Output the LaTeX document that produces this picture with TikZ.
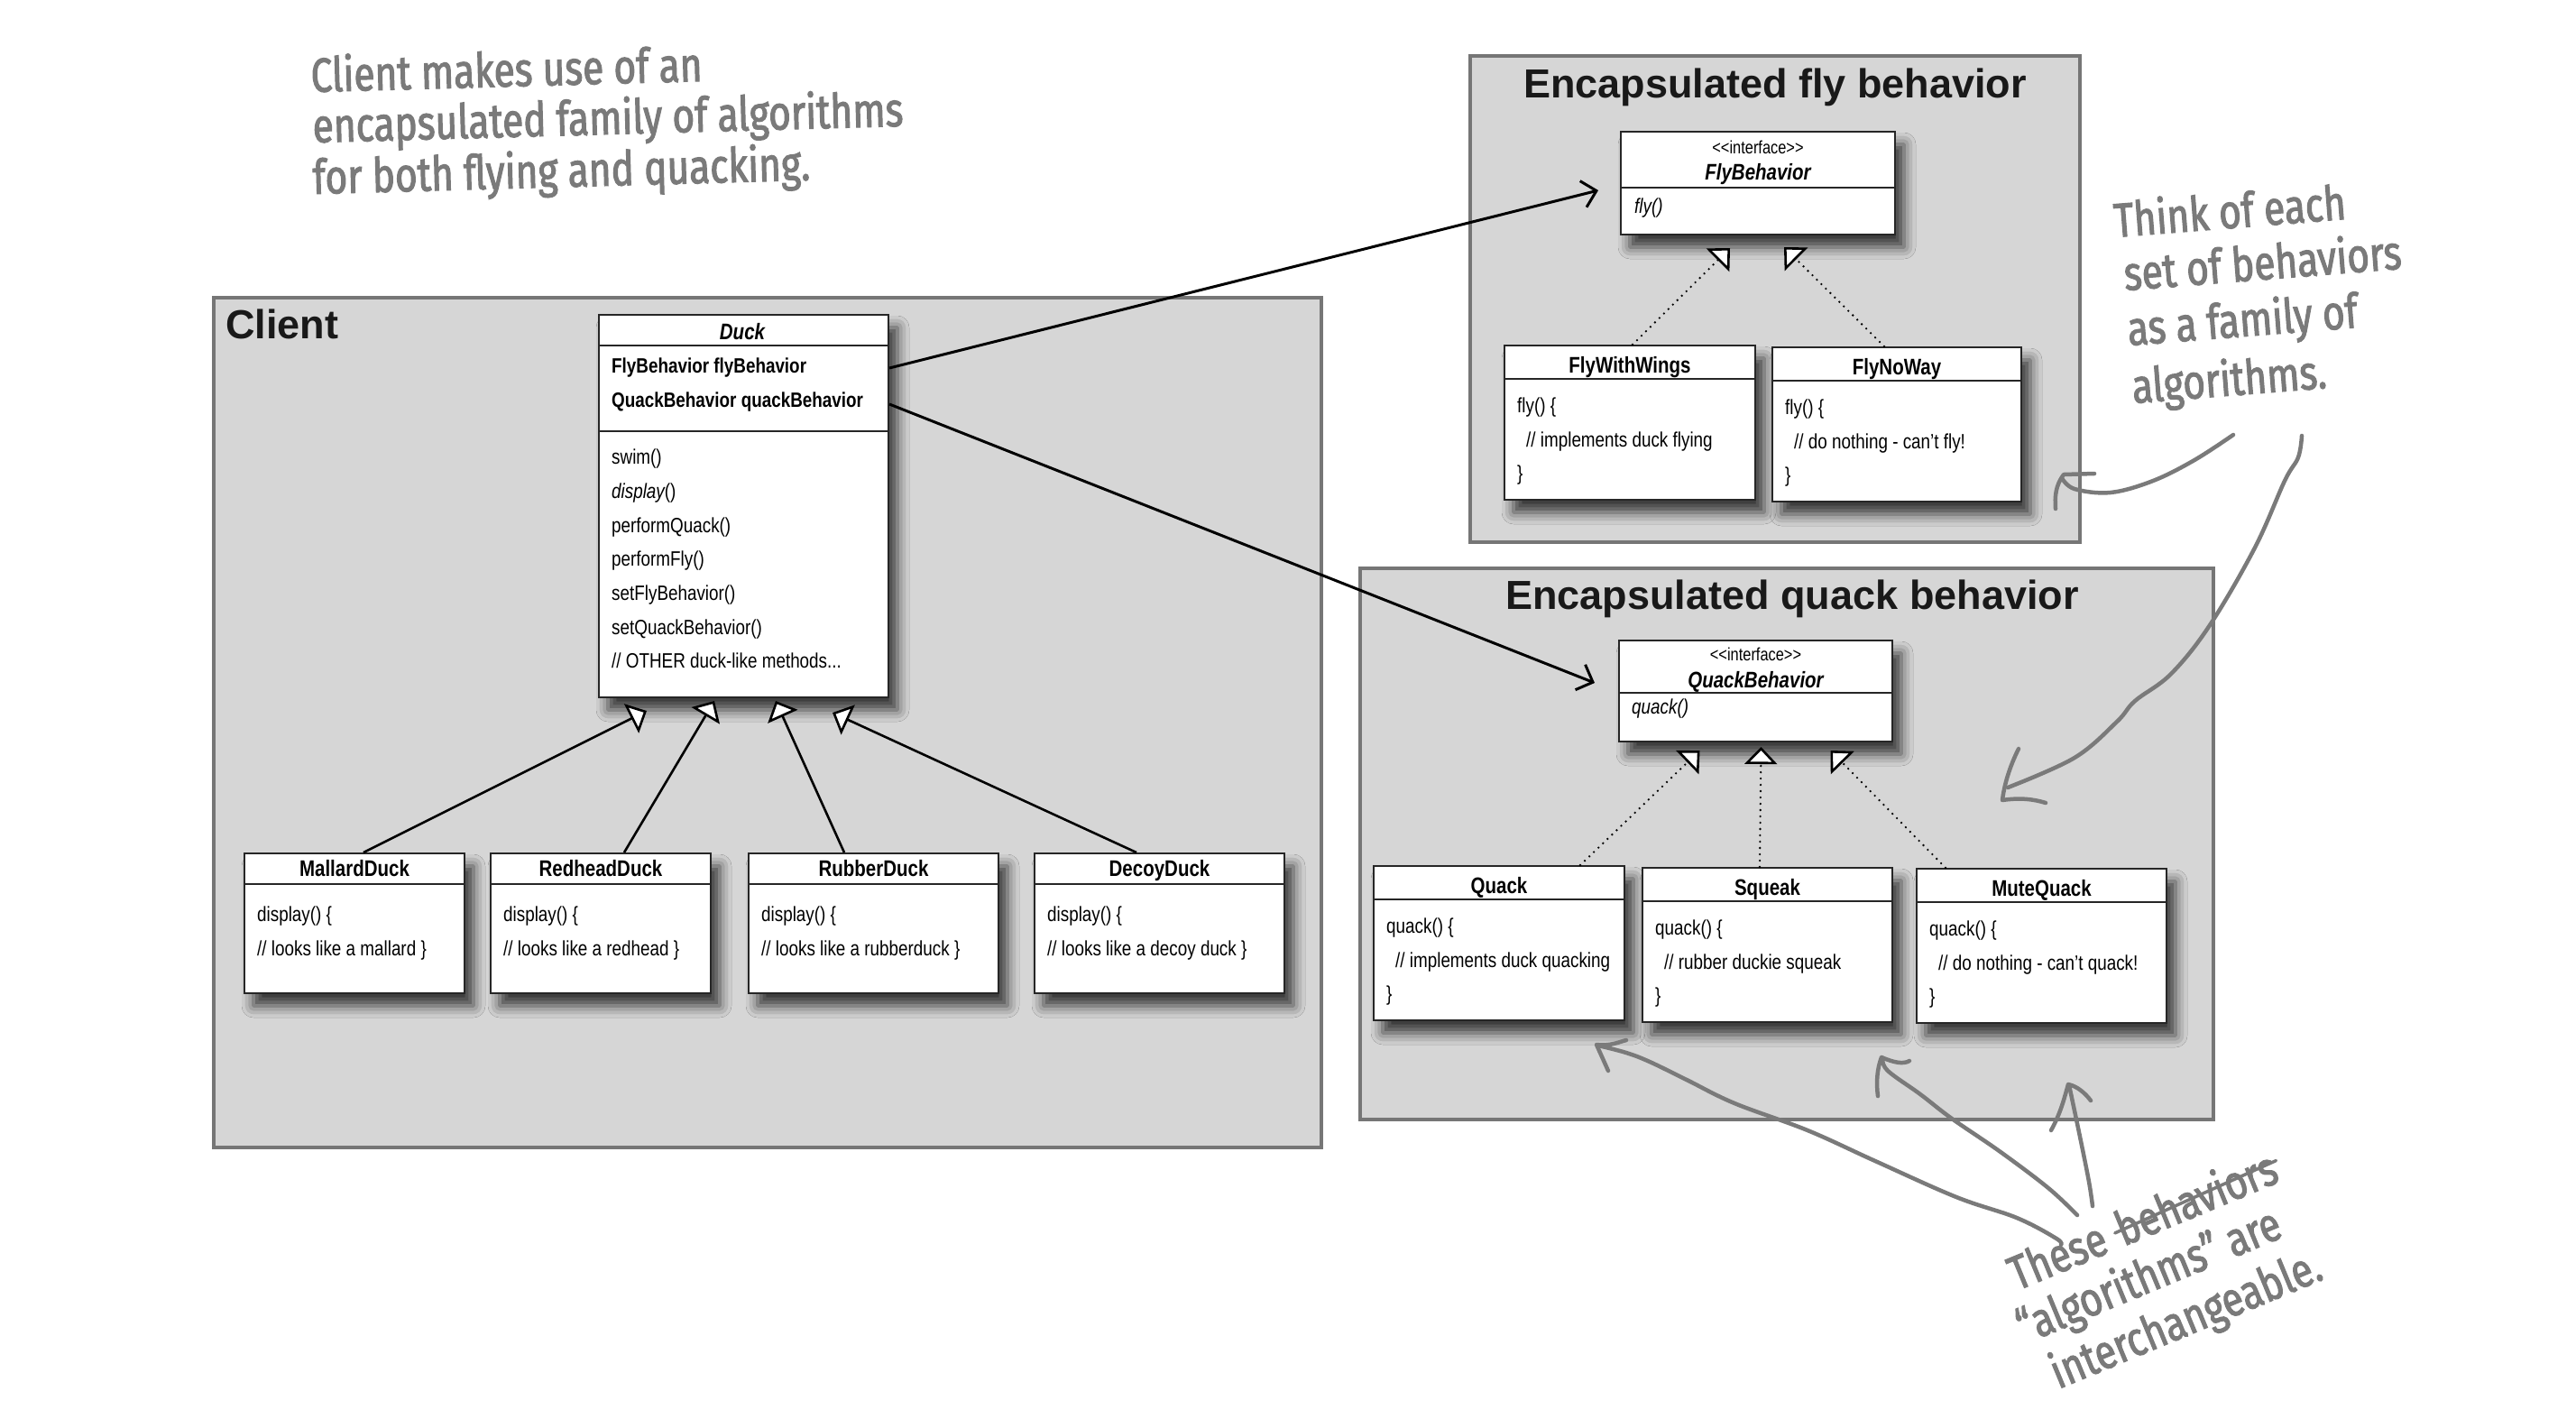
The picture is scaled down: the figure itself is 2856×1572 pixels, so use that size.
\documentclass[tikz,border=0pt]{standalone}
\usepackage{fontspec}
\setmainfont{Liberation Sans}
\newfontfamily\umlfont[FakeStretch=0.82]{Liberation Sans}
\newfontfamily\handfont[FakeStretch=0.8, FakeBold=2]{Fira Sans}
\usetikzlibrary{arrows.meta, calc, shadows.blur}

\definecolor{panelfill}{HTML}{D6D6D6}
\definecolor{panelline}{HTML}{767676}
\definecolor{pen}{HTML}{7A7A7A}

\tikzset{
  panel/.style={draw=panelline, line width=4pt, fill=panelfill, inner sep=0pt, anchor=north west},
  paneltitle/.style={font=\bfseries\fontsize{45}{54}\selectfont, text=black!90, inner sep=0pt},
  classbox/.style={draw=black!85, line width=2pt, fill=white, inner sep=0pt, anchor=north west,
    blur shadow={shadow xshift=10pt, shadow yshift=-14pt, shadow blur radius=13pt, shadow opacity=75}},
  divider/.style={draw=black!85, line width=1.6pt},
  cname/.style={font=\umlfont\bfseries\fontsize{25}{30}\selectfont, inner sep=0pt, anchor=base},
  iname/.style={font=\umlfont\bfseries\itshape\fontsize{25}{30}\selectfont, inner sep=0pt, anchor=base},
  stereo/.style={font=\umlfont\fontsize{20}{24}\selectfont, inner sep=0pt, anchor=base},
  utext/.style={font=\umlfont\fontsize{23}{28}\selectfont, inner sep=0pt, anchor=base west},
  attr/.style={font=\umlfont\bfseries\fontsize{23}{28}\selectfont, inner sep=0pt, anchor=base west},
  inherit/.style={draw=black, line width=2.6pt, -{Triangle[fill=white, length=19pt, width=36pt]}},
  realize/.style={inherit, dash pattern=on 0pt off 7pt, line cap=round},
  assoc/.style={draw=black, line width=3pt, -{Straight Barb[length=15pt, width=30pt]}},
  hand/.style={draw=pen, line width=4.5pt, line cap=round, line join=round},
  handtext/.style={font=\handfont\fontsize{53}{62}\selectfont, text=pen, inner sep=0pt, anchor=base west},
}

% a concrete duck: name, left x, width, class name, comment
\newcommand\duckclass[5]{%
  \node[classbox, minimum width=#3pt, minimum height=155pt] (#1) at (#2,945) {};
  \draw[divider] ($(#1.north west)+(0,35)$) -- ($(#1.north east)+(0,35)$);
  \node[cname] (#1-name) at ($(#1.north)+(0,26)$) {#4};
  \node[utext] (#1-l1) at ($(#1.north west)+(15,76)$) {display() \{};
  \node[utext] (#1-l2) at ($(#1.north west)+(15,114)$) {#5 \}};
}

% a behavior implementation: name, x, y, width, class name, opening line, comment
\newcommand\implclass[7]{%
  \node[classbox, minimum width=#4pt, minimum height=171pt] (#1) at (#2,#3) {};
  \draw[divider] ($(#1.north west)+(0,38)$) -- ($(#1.north east)+(0,38)$);
  \node[cname] (#1-name) at ($(#1.north)+(0,31)$) {#5};
  \node[utext] (#1-l1) at ($(#1.north west)+(15,75)$) {#6};
  \node[utext] (#1-l2) at ($(#1.north west)+(25,113)$) {#7};
  \node[utext] (#1-l3) at ($(#1.north west)+(15,150)$) {\}};
}

\begin{document}
\begin{tikzpicture}[x=1pt, y=-1pt]
\useasboundingbox (0,0) rectangle (2856,1572);
\fill[white] (0,0) rectangle (2856,1572);

% ---------- grey panels ----------
\node[panel, minimum width=1228pt, minimum height=942pt] (client) at (235,328) {};
\node[panel, minimum width=676pt, minimum height=539pt] (flyfam) at (1628,60) {};
\node[panel, minimum width=946pt, minimum height=611pt] (quackfam) at (1506,628) {};

\node[paneltitle, anchor=base west] (client-title) at (250,375) {Client};
\node[paneltitle, anchor=base] (flyfam-title) at (1968,108) {Encapsulated fly behavior};
\node[paneltitle, anchor=base] (quackfam-title) at (1987,675) {Encapsulated quack behavior};

% ---------- Duck ----------
\node[classbox, minimum width=321pt, minimum height=424pt] (duck) at (663,348) {};
\draw[divider] (duck.north west |- 0,383) -- (duck.north east |- 0,383);
\draw[divider] (duck.north west |- 0,478) -- (duck.north east |- 0,478);
\node[iname] (duck-name) at (823,376) {Duck};
\node[attr] (duck-a1) at (678,413) {FlyBehavior flyBehavior};
\node[attr] (duck-a2) at (678,451) {QuackBehavior quackBehavior};
\node[utext] (duck-m1) at (678,514) {swim()};
\node[utext] (duck-m2) at (678,552) {\itshape display\upshape()};
\node[utext] (duck-m3) at (678,590) {performQuack()};
\node[utext] (duck-m4) at (678,627) {performFly()};
\node[utext] (duck-m5) at (678,665) {setFlyBehavior()};
\node[utext] (duck-m6) at (678,703) {setQuackBehavior()};
\node[utext] (duck-m7) at (678,740) {// OTHER duck-like methods...};

\duckclass{mallard}{270}{244}{MallardDuck}{// looks like a mallard}
\duckclass{redhead}{543}{244}{RedheadDuck}{// looks like a redhead}
\duckclass{rubber}{829}{277}{RubberDuck}{// looks like a rubberduck}
\duckclass{decoy}{1146}{277}{DecoyDuck}{// looks like a decoy duck}

% ---------- FlyBehavior family ----------
\node[classbox, minimum width=304pt, minimum height=114pt] (flybeh) at (1796,145) {};
\draw[divider] ($(flybeh.north west)+(0,63)$) -- ($(flybeh.north east)+(0,63)$);
\node[stereo] (flybeh-st) at ($(flybeh.north)+(0,25)$) {<<interface>>};
\node[iname] (flybeh-name) at ($(flybeh.north)+(0,54)$) {FlyBehavior};
\node[utext, font=\umlfont\itshape\fontsize{23}{28}\selectfont] (flybeh-m) at ($(flybeh.north west)+(16,91)$) {fly()};

\implclass{wings}{1667}{382}{278}{FlyWithWings}{fly() \{}{// implements duck flying}
\implclass{noway}{1964}{384}{276}{FlyNoWay}{fly() \{}{// do nothing - can’t fly!}

% ---------- QuackBehavior family ----------
\node[classbox, minimum width=303pt, minimum height=112pt] (quackbeh) at (1794,709) {};
\draw[divider] ($(quackbeh.north west)+(0,59)$) -- ($(quackbeh.north east)+(0,59)$);
\node[stereo] (quackbeh-st) at ($(quackbeh.north)+(0,23)$) {<<interface>>};
\node[iname] (quackbeh-name) at ($(quackbeh.north)+(0,53)$) {QuackBehavior};
\node[utext, font=\umlfont\itshape\fontsize{23}{28}\selectfont] (quackbeh-m) at ($(quackbeh.north west)+(15,82)$) {quack()};

\implclass{quack}{1522}{959}{278}{Quack}{quack() \{}{// implements duck quacking}
\implclass{squeak}{1820}{961}{277}{Squeak}{quack() \{}{// rubber duckie squeak}
\implclass{mute}{2124}{962}{277}{MuteQuack}{quack() \{}{// do nothing - can’t quack!}

% ---------- inheritance ----------
\coordinate (tip-mallard) at ($(duck.south west)+(54,14)$);
\coordinate (tip-redhead) at ($(duck.south west)+(129,3)$);
\coordinate (tip-rubber)  at ($(duck.south west)+(197,3)$);
\coordinate (tip-decoy)   at ($(duck.south west)+(260,16)$);
\draw[inherit] (mallard.north -| 403,0) -- (tip-mallard);
\draw[inherit] (redhead.north -| 692,0) -- (tip-redhead);
\draw[inherit] (rubber.north -| 936,0) -- (tip-rubber);
\draw[inherit] (decoy.north -| 1260,0) -- (tip-decoy);

% ---------- realizations ----------
\coordinate (tip-wings) at ($(flybeh.south)+(-31,14)$);
\coordinate (tip-noway) at ($(flybeh.south)+(29,13)$);
\draw[realize] (wings.north -| 1810,0) -- (tip-wings);
\draw[realize] (noway.north -| 2089,0) -- (tip-noway);
\coordinate (tip-quack)  at ($(quackbeh.south)+(-62,9)$);
\coordinate (tip-squeak) at ($(quackbeh.south)+(6,5)$);
\coordinate (tip-mute)   at ($(quackbeh.south)+(83,9)$);
\draw[realize] (quack.north -| 1752,0) -- (tip-quack);
\draw[realize] (squeak.north -| 1951,0) -- (tip-squeak);
\draw[realize] (mute.north -| 2157,0) -- (tip-mute);

% ---------- associations ----------
\coordinate (fly-ref) at (duck.east |- 0,408);
\coordinate (quack-ref) at (duck.east |- 0,448);
\coordinate (fly-end) at ($(flybeh.west)+(-24,8)$);
\coordinate (quack-end) at ($(quackbeh.west)+(-26,-9)$);
\draw[assoc] (fly-ref) -- (fly-end);
\draw[assoc] (quack-ref) -- (quack-end);

% ---------- handwritten notes ----------
\node[handtext, rotate=1.6] (note1a) at (345,102) {Client makes use of an};
\node[handtext, rotate=1.6] (note1b) at (347,158) {encapsulated family of algorithms};
\node[handtext, rotate=1.6] (note1c) at (347,215) {for both flying and quacking.};

\node[handtext, rotate=4.5] (note2a) at (2345,263) {Think of each};
\node[handtext, rotate=4.5] (note2b) at (2356,322) {set of behaviors};
\node[handtext, rotate=4.5] (note2c) at (2360,383) {as a family of};
\node[handtext, rotate=4.5] (note2d) at (2365,447) {algorithms.};

\node[handtext, rotate=22.5] (note3a) at (2236,1431) {These};
\node[handtext, rotate=22.5] (note3w) at ($(note3a.base east)+(14,-6)$) {behaviors};
\draw[hand, line width=3.5pt] ($(note3w.west)+(-2,4)$) -- ($(note3w.east)+(2,-4)$);
\node[handtext, rotate=22.5] (note3b) at (2245,1490) {“algorithms” are};
\node[handtext, rotate=22.5] (note3c) at (2282,1540) {interchangeable.};

% arrows of the notes
\draw[hand] plot[smooth, tension=0.6] coordinates {(2476,482) (2433,510) (2387,533) (2340,546) (2300,542) (2286,530)};
\draw[hand] (2322,525) -- (2288,526) .. controls (2279,538) and (2278,550) .. (2279,564);

\draw[hand] plot[smooth, tension=0.6] coordinates {(2552,483) (2548,507) (2533,533) (2500,607) (2450,693) (2407,747) (2367,777) (2347,800) (2300,840) (2226,873)};
\draw[hand] (2238,830) .. controls (2228,850) and (2222,870) .. (2220,887) .. controls (2240,884) and (2255,886) .. (2268,890);

\draw[hand] plot[smooth, tension=0.6] coordinates {(2285,1380) (2280,1373) (2236,1350) (2169,1327) (2079,1287) (2004,1253) (1923,1223) (1870,1197) (1829,1177) (1803,1167) (1772,1159)};
\draw[hand] (1783,1187) -- (1770,1158) .. controls (1785,1160) and (1795,1155) .. (1803,1153);

\draw[hand] plot[smooth, tension=0.6] coordinates {(2303,1347) (2271,1317) (2218,1277) (2164,1240) (2129,1213) (2093,1187) (2087,1173)};
\draw[hand] (2082,1215) .. controls (2080,1200) and (2081,1185) .. (2086,1172) .. controls (2100,1178) and (2110,1180) .. (2117,1176);

\draw[hand] plot[smooth, tension=0.6] coordinates {(2320,1337) (2316,1310) (2306,1260) (2294,1203)};
\draw[hand] (2274,1253) .. controls (2284,1235) and (2288,1220) .. (2293,1202) .. controls (2303,1204) and (2312,1212) .. (2318,1220);

\end{tikzpicture}
\end{document}
